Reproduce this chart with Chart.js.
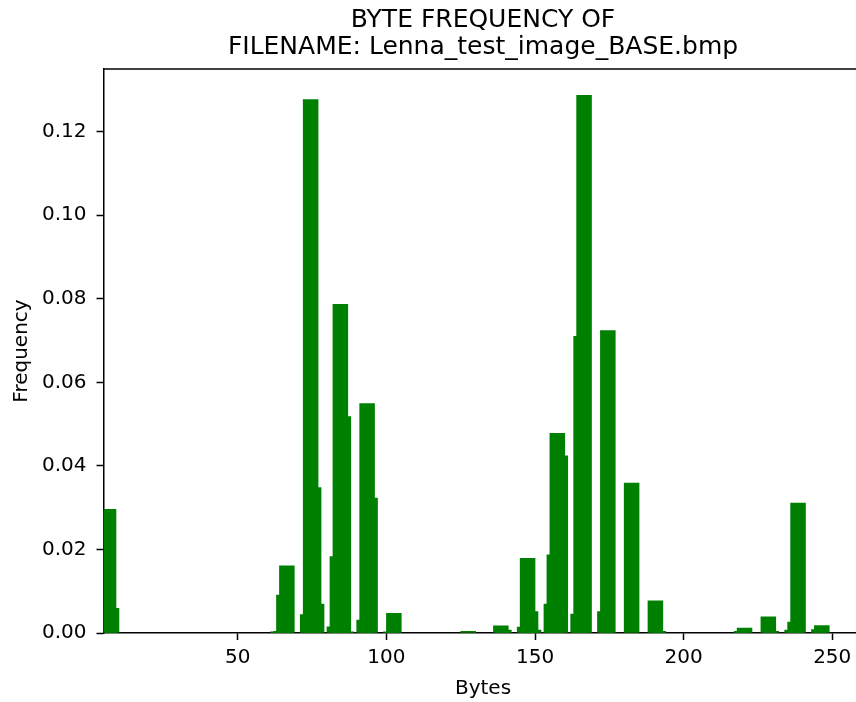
<!DOCTYPE html>
<html>
<head>
<meta charset="utf-8">
<title>Byte frequency</title>
<script src="https://cdn.jsdelivr.net/npm/chart.js@4.4.1/dist/chart.umd.min.js"></script>
<style>
  html, body { margin: 0; padding: 0; background: #fff; }
  canvas { display: block; }
</style>
</head>
<body>
<canvas id="byteChart" width="856" height="702"></canvas>
<script>
// byte values (left edge of each bar) and their frequencies
const BYTES = [4, 5, 61, 62, 63, 64, 71, 72, 73, 74, 80, 81, 82, 83, 84, 90, 91, 92,
  99, 100, 125, 136, 137, 144, 145, 146, 147, 153, 154, 155, 156, 162, 163, 164,
  171, 172, 180, 188, 189, 217, 218, 226, 227, 234, 235, 236, 243, 244];
const FREQUENCY = [0.0296, 0.0059, 0.0003, 0.0004, 0.0091, 0.0161, 0.0044, 0.1277, 0.0348, 0.0069,
  0.0015, 0.0183, 0.0787, 0.0518, 0.0003, 0.0031, 0.0549, 0.0323, 0.0003, 0.0047,
  0.0004, 0.0017, 0.0007, 0.0014, 0.0179, 0.0051, 0.0007, 0.0069, 0.0187, 0.0478, 0.0424,
  0.0045, 0.0710, 0.1287, 0.0051, 0.0724, 0.0359, 0.0077, 0.0004, 0.0004, 0.0012,
  0.0039, 0.0004, 0.0007, 0.0026, 0.0311, 0.0008, 0.0018];
const X_TICKS = [50, 100, 150, 200, 250];
const Y_TICKS = [0, 0.02, 0.04, 0.06, 0.08, 0.10, 0.12];

const TITLE_LINES = ['BYTE FREQUENCY OF', 'FILENAME: Lenna_test_image_BASE.bmp'];
const BAR_WIDTH = 5;        // in byte units, bars aligned on their left edge
const FONT = '"DejaVu Sans", "Liberation Sans", sans-serif';

// taller bars are drawn last so they sit on top of their neighbours
const points = BYTES.map((b, i) => ({ x: b + BAR_WIDTH / 2, y: FREQUENCY[i] }))
  .sort((a, b) => a.y - b.y);

const textPlugin = {
  id: 'texts',
  afterDraw(chart) {
    const ctx = chart.ctx;
    const area = chart.chartArea;
    ctx.save();
    // top spine
    ctx.strokeStyle = '#000';
    ctx.lineWidth = 1.5;
    ctx.beginPath();
    ctx.moveTo(area.left, area.top);
    ctx.lineTo(area.right, area.top);
    ctx.stroke();

    ctx.fillStyle = '#000';
    ctx.textAlign = 'center';
    ctx.textBaseline = 'alphabetic';
    ctx.font = '25px ' + FONT;
    ctx.fillText(TITLE_LINES[0], 483, 27);
    ctx.fillText(TITLE_LINES[1], 483, 54);

    ctx.font = '20px ' + FONT;
    ctx.textBaseline = 'middle';
    ctx.fillText('Bytes', 483, 689);

    ctx.translate(22, (area.top + area.bottom) / 2);
    ctx.rotate(-Math.PI / 2);
    ctx.fillText('Frequency', 0, 0);
    ctx.restore();
  }
};

const ctx = document.getElementById('byteChart').getContext('2d');
const chart = new Chart(ctx, {
  type: 'bar',
  data: {
    datasets: [{
      label: 'Frequency',
      data: points,
      backgroundColor: '#008000',
      borderWidth: 0,
      barThickness: 15
    }]
  },
  options: {
    responsive: false,
    devicePixelRatio: 1,
    animation: false,
    layout: { padding: { top: 69, left: 0, right: 0, bottom: 0 } },
    plugins: {
      legend: { display: false },
      tooltip: { enabled: false },
      title: { display: false }
    },
    scales: {
      x: {
        type: 'linear',
        min: 4.8,
        max: 258,
        offset: false,
        afterBuildTicks: s => { s.ticks = X_TICKS.map(v => ({ value: v })); },
        afterFit: s => { s.height = 69; s.paddingLeft = 0; s.paddingRight = 0; },
        ticks: {
          color: '#000',
          font: { family: FONT, size: 20 },
          padding: 6,
          maxRotation: 0,
          callback: v => String(v)
        },
        grid: { offset: false, drawOnChartArea: false, drawTicks: true, tickLength: 7, tickColor: '#000', tickWidth: 1.5 },
        border: { display: true, color: '#000', width: 1.5 }
      },
      y: {
        type: 'linear',
        min: 0,
        max: 0.135,
        afterBuildTicks: s => { s.ticks = Y_TICKS.map(v => ({ value: v })); },
        afterFit: s => { s.width = 103.5; s.paddingTop = 0; s.paddingBottom = 0; },
        ticks: {
          color: '#000',
          font: { family: FONT, size: 20 },
          padding: 10,
          callback: v => v.toFixed(2)
        },
        grid: { offset: false, drawOnChartArea: false, drawTicks: true, tickLength: 7, tickColor: '#000', tickWidth: 1.5 },
        border: { display: true, color: '#000', width: 1.5 }
      }
    }
  },
  plugins: [textPlugin]
});

// make each bar BAR_WIDTH bytes wide using the x scale itself
const xs = chart.scales.x;
chart.data.datasets[0].barThickness = xs.getPixelForValue(BAR_WIDTH) - xs.getPixelForValue(0);
chart.update('none');
</script>
</body>
</html>
